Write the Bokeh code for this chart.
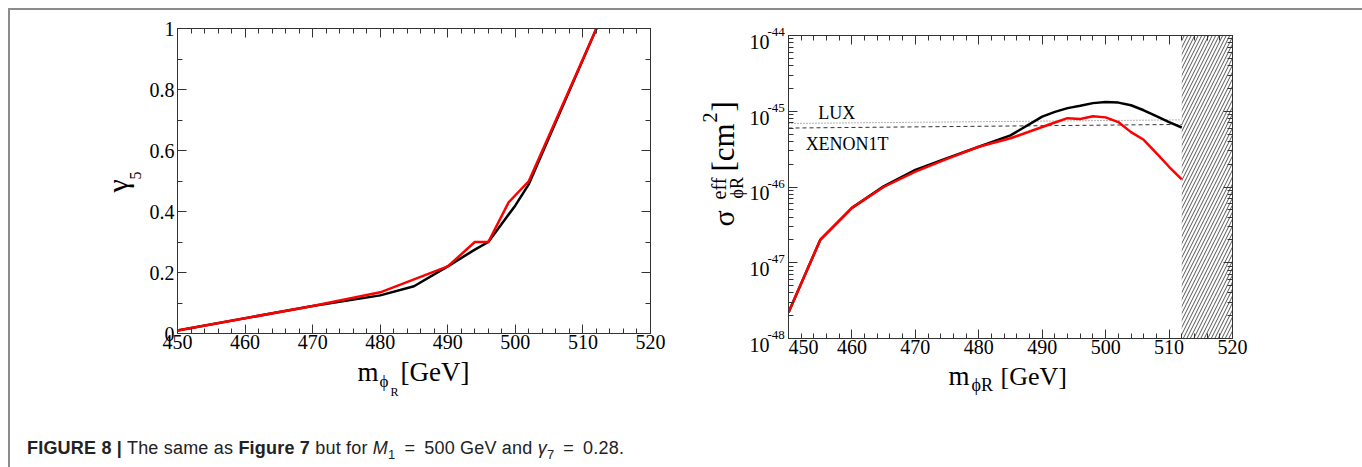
import math
from bokeh.plotting import figure
from bokeh.models import (Label, LinearAxis, LogAxis, Div, CustomJSTickFormatter,
                          LogTicker, SingleIntervalTicker, Range1d, LinearScale, LogScale)
from bokeh.layouts import column, row
from bokeh.embed import file_html
from bokeh.resources import INLINE

# ---------------- data ----------------
# left panel: gamma_5 versus m_phiR
m_gamma_black = [450, 470, 480, 485, 490, 494, 496, 500, 502, 512]
gamma_black = [0.01, 0.09, 0.125, 0.155, 0.22, 0.275, 0.30, 0.42, 0.49, 1.0]
m_gamma_red = [450, 470, 480, 490, 494, 496, 499, 502, 512]
gamma_red = [0.01, 0.09, 0.135, 0.22, 0.30, 0.30, 0.43, 0.50, 1.0]

# right panel: effective cross section versus m_phiR
m_sigma = [450, 455, 460, 465, 470, 475, 480, 485, 490, 492, 494, 496, 498, 500,
           502, 504, 506, 508, 510, 512]
sigma_black = [2.2e-48, 2.0e-47, 5.3e-47, 1.02e-46, 1.68e-46, 2.4e-46, 3.4e-46, 4.8e-46,
               8.5e-46, 9.8e-46, 1.1e-45, 1.18e-45, 1.28e-45, 1.32e-45, 1.3e-45, 1.2e-45,
               1.03e-45, 8.6e-46, 7.2e-46, 6.1e-46]
sigma_red = [2.2e-48, 2.0e-47, 5.3e-47, 1.0e-46, 1.6e-46, 2.35e-46, 3.4e-46, 4.4e-46,
             6.2e-46, 7.1e-46, 8.1e-46, 7.9e-46, 8.6e-46, 8.3e-46, 7.2e-46, 5.3e-46,
             4.2e-46, 2.8e-46, 1.85e-46, 1.26e-46]

# experimental limits
m_limit = [450, 512]
lux_limit = [6.9e-46, 7.7e-46]
xenon1t_limit = [6.0e-46, 6.7e-46]

# excluded (hatched) mass region
excluded_region = [512, 520]

# axis ranges and decade tick labels of the log axis
x_range_vals = [450, 520]
gamma_range = [0, 1]
sigma_range = [1e-48, 1e-44]
sigma_decades = [1e-48, 1e-47, 1e-46, 1e-45, 1e-44]
sigma_decade_exponents = ["-48", "-47", "-46", "-45", "-44"]

SERIF = "Liberation Serif"
AX = "#333333"
RED = "#ff0000"
MID = 0.3375  # em-box centre above the alphabetic baseline (Liberation Serif)

blank_fmt = CustomJSTickFormatter(code="return '';")


def style_axis(ax, show_labels=True):
    ax.major_tick_in = 9
    ax.major_tick_out = 0
    ax.minor_tick_in = 5
    ax.minor_tick_out = 0
    ax.axis_line_color = AX
    ax.major_tick_line_color = AX
    ax.minor_tick_line_color = AX
    ax.major_label_text_font = SERIF
    ax.major_label_text_font_size = "20px"
    ax.major_label_text_color = "black"
    ax.major_label_standoff = 1
    if not show_labels:
        ax.formatter = blank_fmt
        ax.major_label_standoff = 0


def bare(f):
    f.outline_line_color = None
    f.grid.visible = False
    f.background_fill_color = "white"
    f.border_fill_color = "white"
    return f


def label_fig(x0, x1, y0, y1):
    """A bare canvas whose data units are page pixels (y downwards)."""
    f = figure(width=x1 - x0, height=y1 - y0, x_range=Range1d(x0, x1),
               y_range=Range1d(y1, y0), output_backend="svg", toolbar_location=None,
               x_axis_type=None, y_axis_type=None, min_border=0, title=None,
               frame_align=False)
    return bare(f)


def htxt(f, px, base_y, text, size, **kw):
    """Horizontal text whose alphabetic baseline lies at page y = base_y."""
    f.add_layout(Label(x=px, y=base_y - MID * size, text=text, text_font=SERIF,
                       text_font_size=f"{size}px", text_color="black",
                       text_align="left", text_baseline="middle", **kw))


def vtxt(f, base_x, start_y, text, size, **kw):
    """Text rotated 90 deg (reads upwards), baseline at page x = base_x."""
    f.add_layout(Label(x=base_x - MID * size, y=start_y, text=text, text_font=SERIF,
                       text_font_size=f"{size}px", text_color="black",
                       text_align="left", text_baseline="middle",
                       angle=90, angle_units="deg", **kw))


# ================= left panel =================
p1 = figure(width=554, height=347, output_backend="svg", toolbar_location=None, title=None,
            x_range=Range1d(*x_range_vals), y_range=Range1d(*gamma_range),
            min_border_left=28, min_border_right=50, min_border_top=18,
            min_border_bottom=24, x_axis_type=None, y_axis_type=None, frame_align=False)
p1.grid.visible = False
p1.outline_line_color = AX
p1.background_fill_color = "white"
p1.border_fill_color = "white"

xt = SingleIntervalTicker(interval=10, num_minor_ticks=5)
yt = SingleIntervalTicker(interval=0.2, num_minor_ticks=2)
yfmt = CustomJSTickFormatter(code="return String(parseFloat(tick.toFixed(2)));")
for loc, show in (("below", True), ("above", False)):
    ax = LinearAxis(ticker=xt)
    style_axis(ax, show)
    p1.add_layout(ax, loc)
for loc, show in (("left", True), ("right", False)):
    ax = LinearAxis(ticker=yt, formatter=yfmt)
    style_axis(ax, show)
    if show:
        ax.major_label_standoff = 3
    p1.add_layout(ax, loc)

p1.line(m_gamma_black, gamma_black, line_color="black", line_width=2.5)
p1.line(m_gamma_red, gamma_red, line_color=RED, line_width=2.5)

# axis titles of the left panel
ylab1 = label_fig(10, 146, 10, 400)
vtxt(ylab1, 127, 192, "γ", 30)
vtxt(ylab1, 140, 179, "5", 16)

xlab1 = label_fig(146, 700, 357, 400)
htxt(xlab1, 357, 381, "m", 27)
htxt(xlab1, 379, 387, "ϕ", 17)
htxt(xlab1, 390, 396, "R", 12)
htxt(xlab1, 400, 381, "[GeV]", 27)

# ================= right panel =================
P2_TOP, P2_FRAME_H, P2_BOTTOM = 25, 303, 24
p2 = figure(width=565, height=P2_TOP + P2_FRAME_H + P2_BOTTOM, output_backend="svg",
            toolbar_location=None, title=None,
            x_range=Range1d(*x_range_vals), y_range=Range1d(*sigma_range),
            y_axis_type="log", x_axis_type=None,
            min_border_left=0, min_border_right=121, min_border_top=P2_TOP,
            min_border_bottom=P2_BOTTOM, frame_align=False)
p2.grid.visible = False
p2.left = []
p2.outline_line_color = AX
p2.background_fill_color = "white"
p2.border_fill_color = "white"

# hatched excluded region
p2.quad(left=[excluded_region[0]], right=[excluded_region[1]],
        bottom=[sigma_range[0]], top=[sigma_range[1]],
        fill_color=None, line_color=None, hatch_pattern="/",
        hatch_color="#555555", hatch_scale=7, hatch_weight=1)

xt2 = SingleIntervalTicker(interval=10, num_minor_ticks=5)
for loc, show in (("below", True), ("above", False)):
    ax = LinearAxis(ticker=xt2)
    style_axis(ax, show)
    p2.add_layout(ax, loc)
for loc in ("left", "right"):
    ax = LogAxis(ticker=LogTicker(mantissas=[1], desired_num_ticks=4, num_minor_ticks=10))
    style_axis(ax, False)
    p2.add_layout(ax, loc)

p2.line(m_limit, lux_limit, line_color="#666666", line_width=1, line_dash="1 2")
p2.line(m_limit, xenon1t_limit, line_color="#333333", line_width=1, line_dash="4 3")
p2.line(m_sigma, sigma_black, line_color="black", line_width=2.5)
p2.line(m_sigma, sigma_red, line_color=RED, line_width=2.5)

p2.add_layout(Label(x=454.7, y=6.9e-46, text="LUX", text_font=SERIF,
                    text_font_size="18px", text_color="black"))
p2.add_layout(Label(x=452.7, y=2.7e-46, text="XENON1T", text_font=SERIF,
                    text_font_size="18px", text_color="black"))

# left strip of the right panel: decade tick labels on a log scale matching the frame,
# and the rotated axis title on an extra page-pixel range
decades = math.log10(sigma_range[1]) - math.log10(sigma_range[0])
px_per_decade = P2_FRAME_H / decades
strip_lo = 10 ** (math.log10(sigma_range[0]) - (390 - P2_TOP - P2_FRAME_H) / px_per_decade)
strip_hi = 10 ** (math.log10(sigma_range[1]) + P2_TOP / px_per_decade)
ylab2 = figure(width=88, height=390, x_range=Range1d(700, 788),
               y_range=Range1d(strip_lo, strip_hi), y_axis_type=None, x_axis_type=None,
               output_backend="svg", toolbar_location=None, min_border=0, title=None,
               extra_y_ranges={"px": Range1d(400, 10)},
               extra_y_scales={"px": LinearScale()}, frame_align=False)
ylab2.y_scale = LogScale()
bare(ylab2)
for v, e in zip(sigma_decades, sigma_decade_exponents):
    ylab2.add_layout(Label(x=749, y=v, y_offset=-(13 - MID * 20), text="10", text_font=SERIF,
                           text_font_size="20px", text_color="black", text_baseline="middle"))
    ylab2.add_layout(Label(x=767, y=v, y_offset=-(1 - MID * 13), text=e, text_font=SERIF,
                           text_font_size="13px", text_color="black", text_baseline="middle"))

vtxt(ylab2, 733, 226, "σ", 30, y_range_name="px")
vtxt(ylab2, 725, 199, "eff", 20, y_range_name="px")
vtxt(ylab2, 743, 198, "ϕR", 18, y_range_name="px")
vtxt(ylab2, 733, 171, "[cm", 31, y_range_name="px")
vtxt(ylab2, 716, 122, "2", 20, y_range_name="px")
vtxt(ylab2, 733, 111, "]", 31, y_range_name="px")

xlab2 = label_fig(788, 1353, 362, 400)
htxt(xlab2, 948, 385, "m", 27)
htxt(xlab2, 971, 391, "ϕR", 18)
htxt(xlab2, 1000, 385, "[GeV]", 26)

caption = Div(width=1343, height=57, text=(
    '<div style="font-family: \'Liberation Sans\', sans-serif; font-size: 18px; color: #222;'
    ' letter-spacing: 0.2px; padding-top: 31px; padding-left: 12px; white-space: nowrap;">'
    '<b>FIGURE 8 |</b> The same as <b>Figure 7</b> but for '
    '<i>M</i><sub style="font-size:13px">1</sub>&thinsp; = &thinsp;500 GeV'
    ' and <i>γ</i><sub style="font-size:13px">7</sub>&thinsp; = &thinsp;0.28.</div>'))

left_block = row(ylab1, column(p1, xlab1))
right_block = row(ylab2, column(p2, xlab2))
layout = column(row(left_block, right_block), caption,
                styles={"margin-left": "8px", "margin-top": "8px",
                        "border-top": "2px solid #8c8c8c", "border-left": "2px solid #8c8c8c",
                        "border-right": "2px solid #8c8c8c", "background": "white"})

open("out.html", "w").write(file_html(layout, INLINE))
